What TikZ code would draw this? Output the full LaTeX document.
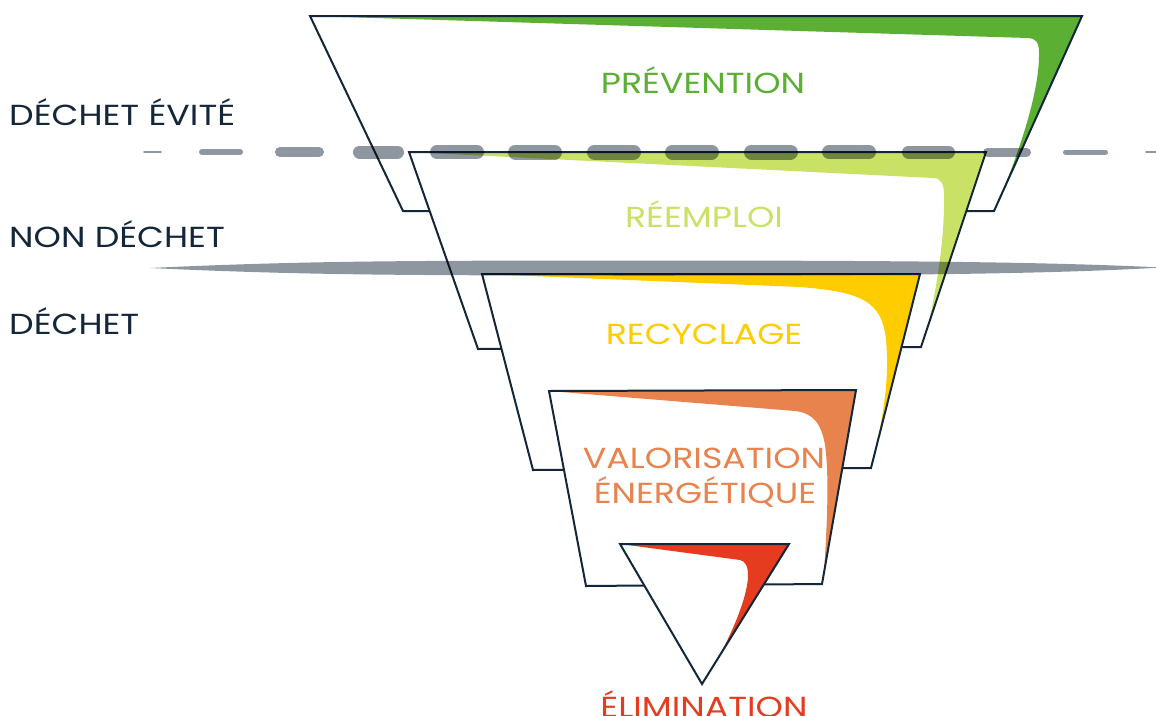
\documentclass[tikz,border=0pt]{standalone}
\usepackage{fontspec}
\setmainfont{Poppins}[FakeStretch=1.2]
\definecolor{navy}{HTML}{13263A}
\definecolor{cprev}{HTML}{5BAF33}
\definecolor{creem}{HTML}{C9E265}
\definecolor{crecy}{HTML}{FFCC00}
\definecolor{cvalo}{HTML}{E8834E}
\definecolor{celim}{HTML}{E53C1F}
\definecolor{gline}{HTML}{8E979F}
\begin{document}
\begin{tikzpicture}[x=1pt,y=-1pt,
  outl/.style={draw=navy,line width=2pt,line join=miter},
  lvl/.style={font=\fontsize{29}{30}\selectfont,anchor=base,inner sep=0pt},
  side/.style={font=\fontsize{29}{30}\selectfont,anchor=base west,inner sep=0pt,text=navy},
  dsh/.style={draw=gline,line cap=round}]
\useasboundingbox (0,0) rectangle (1156,715);
% ---- PREVENTION
\fill[white] (310,16) -- (1082,16) -- (994,211) -- (403,211) -- cycle;
\fill[cprev] (310,16) -- (1082,16) -- (999,200) .. controls (1020,150) and (1040,90) .. (1039,52) .. controls (1039,42) and (1035,38) .. (1028,38) -- cycle;
\draw[outl] (310,16) -- (1082,16) -- (994,211) -- (403,211) -- cycle;
% ---- REEMPLOI
\fill[white] (409,152) -- (986,152) -- (921,347) -- (478,349) -- cycle;
\fill[creem] (409,152) -- (986,152) -- (925,337) .. controls (935,300) and (945,240) .. (944,195) .. controls (944,184) and (941,178) .. (933,178) -- cycle;
\draw[outl] (409,152) -- (986,152) -- (921,347) -- (478,349) -- cycle;
% ---- RECYCLAGE
\fill[white] (482,274) -- (920,274) -- (871,468) -- (533,470) -- cycle;
\fill[crecy] (482,274) -- (920,274) -- (876,447) .. controls (882,420) and (890,380) .. (886,340) .. controls (882,300) and (860,292) .. (800,287) -- cycle;
\draw[outl] (482,274) -- (920,274) -- (871,468) -- (533,470) -- cycle;
% ---- VALORISATION
\fill[white] (549,391) -- (856,390) -- (822,584) -- (586,586) -- cycle;
\fill[cvalo] (549,391) -- (856,390) -- (824,572) .. controls (826,540) and (830,480) .. (825,445) .. controls (821,422) and (812,413) .. (795,411) -- cycle;
\draw[outl] (549,391) -- (856,390) -- (822,584) -- (586,586) -- cycle;
% ---- ELIMINATION
\fill[white] (620,544) -- (789,544) -- (702,684) -- cycle;
\fill[celim] (620,544) -- (789,544) -- (706,677) .. controls (725,650) and (748,600) .. (748,575) .. controls (748,566) and (745,561) .. (740,560) -- cycle;
\draw[outl] (620,544) -- (789,544) -- (702,684) -- cycle;
% ---- separators
\begin{scope}[blend mode=multiply]
\foreach \a/\b/\w in {143/162/2.5,199/243/6,275/324/10,353/404/13,430/484/14,508/562/15,587/641/15,665/719/15,744/798/15,822/876/14,902/955/13,983/1031/9,1063/1108/5,1145/1158/2.5}
  {\draw[dsh,line width=\w pt] ({\a+\w/2},152) -- ({\b-\w/2},152);}
\fill[gline] (150,268) .. controls (300,261) and (400,260.5) .. (650,260.5) .. controls (900,260.5) and (1050,262) .. (1162,267.5)
  .. controls (1050,274) and (900,275.5) .. (650,275.5) .. controls (400,275.5) and (300,275) .. (150,268) -- cycle;
\end{scope}
% ---- labels
\node[lvl,text=cprev] (prev) at (703,93) {PRÉVENTION};
\node[lvl,text=creem] (reem) at (704,227) {RÉEMPLOI};
\node[lvl,text=crecy] (recy) at (704,344) {RECYCLAGE};
\node[lvl,text=cvalo] (valo) at (704,468) {VALORISATION};
\node[lvl,text=cvalo] (ener) at (705,503) {ÉNERGÉTIQUE};
\node[lvl,text=celim] (elim) at (704,717) {ÉLIMINATION};
\node[side] (evite) at (9,125) {DÉCHET ÉVITÉ};
\node[side] (nond) at (9,247) {NON DÉCHET};
\node[side] (dech) at (9,334) {DÉCHET};
\end{tikzpicture}
\end{document}
